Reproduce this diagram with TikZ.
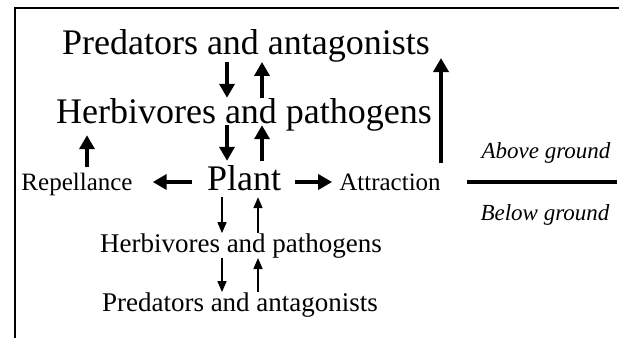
\documentclass[tikz,border=0pt]{standalone}
\usepackage{fontspec}
\setmainfont{Liberation Serif}
\usepackage{tikz}
\usetikzlibrary{positioning,arrows.meta}

\tikzset{
  bigtxt/.style={font=\fontsize{36bp}{40bp}\selectfont, inner sep=0pt, anchor=base},
  smalltxt/.style={font=\fontsize{27bp}{30bp}\selectfont, inner sep=0pt, anchor=base},
  sidetxt/.style={font=\fontsize{25bp}{28bp}\selectfont, inner sep=0pt, anchor=base},
  groundtxt/.style={font=\fontsize{23bp}{26bp}\selectfont\itshape, inner sep=0pt, anchor=base},
  bigarr/.style={-{Triangle[width=15bp,length=14bp]}, line width=3.5bp},
  thinarr/.style={-{Triangle[width=9bp,length=11bp]}, line width=1.6bp},
}

\begin{document}
\begin{tikzpicture}[x=1bp, y=-1bp]
  \useasboundingbox (0,0) rectangle (619,338);
  % ---- frame
  \draw[line width=1.2bp] (15,338) -- (15,8) -- (619,8);
  % ---- arrow columns
  \coordinate (xd) at (227,0);
  \coordinate (xu) at (262,0);
  \coordinate (xdb) at (222,0);
  \coordinate (xub) at (258,0);
  \coordinate (xr) at (87,0);
  \coordinate (xl) at (441,0);
  \coordinate (yh) at (0,182);
  % ---- above ground
  \node[bigtxt] (predA) at (246,54) {Predators and antagonists};
  \node[bigtxt, text depth=2bp] (herbA) at (244,123) {Herbivores and pathogens};
  \node[bigtxt, text height=29bp, text depth=7bp] (plant) at (244,190) {Plant};
  \node[sidetxt] (rep) at (77,190) {Repellance};
  \node[sidetxt] (attr) at (390,190) {Attraction};
  % ---- below ground
  \node[smalltxt] (herbB) at (241,252) {Herbivores and pathogens};
  \node[smalltxt] (predB) at (240,311) {Predators and antagonists};
  % ---- ground line
  \node[groundtxt] (above) at (546,158) {Above ground};
  \node[groundtxt] (below) at (545,220) {Below ground};
  \draw[line width=4.5bp] (467,182) -- (617,182);
  % ---- up and down the food chain
  \foreach \a/\b in {predA/herbA, herbA/plant} {
    \draw[bigarr] (\a.south -| xd) -- (\b.north -| xd);
    \draw[bigarr] (\b.north -| xu) -- (\a.south -| xu);
  }
  \foreach \a/\b in {plant/herbB, herbB/predB} {
    \draw[thinarr] (\a.south -| xdb) -- (\b.north -| xdb);
    \draw[thinarr] (\b.north -| xub) -- (\a.south -| xub);
  }
  % ---- plant signals
  \draw[bigarr, line width=4bp, shorten <=15bp, shorten >=20bp] (plant.west |- yh) -- (rep.east |- yh);
  \draw[bigarr, line width=4bp, shorten <=14bp, shorten >=7bp] (plant.east |- yh) -- (attr.west |- yh);
  \draw[bigarr, shorten <=5bp, shorten >=10bp] (rep.north -| xr) -- (herbA.south -| xr);
  \draw[bigarr, line width=4bp, shorten <=10bp, shorten >=4bp] (attr.north -| xl) -- (predA.base -| xl);
\end{tikzpicture}
\end{document}
